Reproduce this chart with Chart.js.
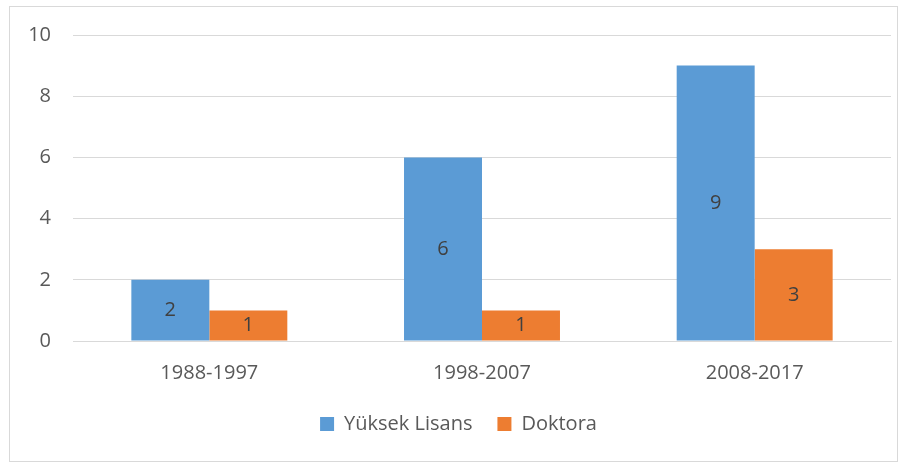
<!DOCTYPE html>
<html>
<head>
<meta charset="utf-8">
<script src="https://cdn.jsdelivr.net/npm/chart.js@4.4.1/dist/chart.umd.min.js"></script>
<style>
  html, body { margin: 0; padding: 0; background: #fff; }
  #frame {
    position: absolute; left: 9px; top: 6px;
    width: 887px; height: 454px;
    border: 1px solid #d9d9d9;
  }
  #frame canvas { display: block; }
</style>
</head>
<body>
<div id="frame"><canvas id="chart" width="887" height="454"></canvas></div>
<script>
const periods = ["1988-1997", "1998-2007", "2008-2017"];
const yuksekLisans = [2, 6, 9];
const doktora = [1, 1, 3];
const yTicks = [0, 2, 4, 6, 8, 10];

const textColor = "#595959";
const fontFamily = "'Open Sans', 'Noto Sans', sans-serif";

// draws the value in the middle of each bar
const barValues = {
  id: "barValues",
  afterDatasetsDraw(chart) {
    const ctx = chart.ctx;
    ctx.save();
    ctx.font = "20px " + fontFamily;
    ctx.fillStyle = "#404040";
    ctx.textAlign = "center";
    ctx.textBaseline = "middle";
    chart.data.datasets.forEach((ds, i) => {
      chart.getDatasetMeta(i).data.forEach((bar, j) => {
        const mid = (bar.y + bar.base) / 2;
        ctx.fillText(String(ds.data[j]), bar.x, mid);
      });
    });
    ctx.restore();
  }
};

new Chart(document.getElementById("chart"), {
  type: "bar",
  data: {
    labels: periods,
    datasets: [
      { label: "Yüksek Lisans", data: yuksekLisans, backgroundColor: "#5b9bd5" },
      { label: "Doktora", data: doktora, backgroundColor: "#ed7d31" }
    ]
  },
  options: {
    responsive: false,
    animation: false,
    layout: { padding: { left: 16, right: 6, top: 0, bottom: 17 } },
    datasets: {
      bar: { barPercentage: 1, categoryPercentage: 0.572 }
    },
    scales: {
      x: {
        afterFit(axis) { axis.height = 48; },
        grid: { display: false, drawTicks: false },
        border: { color: "#d9d9d9" },
        ticks: { color: textColor, font: { size: 20, family: fontFamily }, padding: 20 }
      },
      y: {
        min: 0,
        max: 10,
        afterBuildTicks(axis) { axis.ticks = yTicks.map(v => ({ value: v })); },
        afterFit(axis) { axis.width = 47; axis.paddingTop = 28; },
        grid: { color: "#d9d9d9", drawTicks: false },
        border: { display: false },
        ticks: { color: textColor, font: { size: 20, family: fontFamily }, padding: 22 }
      }
    },
    plugins: {
      legend: {
        position: "bottom",
        labels: {
          color: textColor,
          font: { size: 20, family: fontFamily },
          boxWidth: 14,
          boxHeight: 14,
          padding: 25
        }
      },
      tooltip: { enabled: false }
    }
  },
  plugins: [barValues]
});
</script>
</body>
</html>
